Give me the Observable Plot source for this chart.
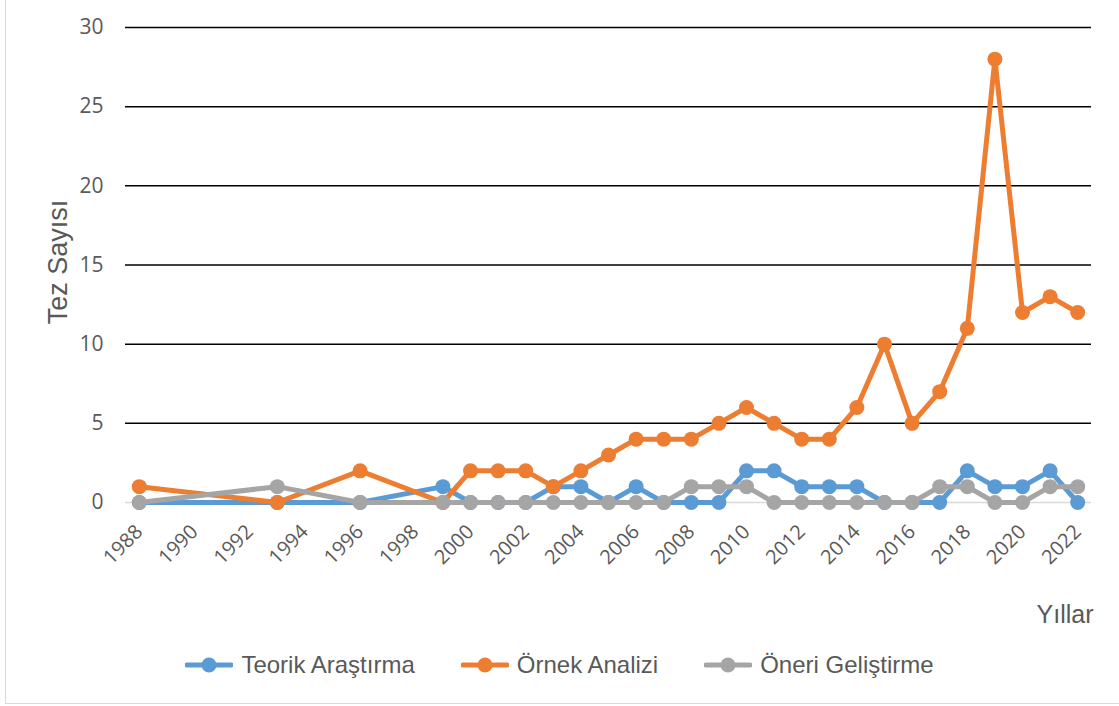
<!DOCTYPE html>
<html>
<head>
<meta charset="utf-8">
<script src="https://cdn.jsdelivr.net/npm/d3@7"></script>
<script src="https://cdn.jsdelivr.net/npm/@observablehq/plot@0.6"></script>
<style>
  html, body { margin: 0; padding: 0; background: #fff; }
  #frame { position: absolute; left: 5px; top: -2px; width: 1120px; height: 706px; box-sizing: border-box; border: 1.5px solid #d9d9d9; }
  #chart { position: absolute; left: 0; top: 0; }
  #legend { position: absolute; left: 0; top: 651px; width: 1119px; display: flex; justify-content: center; gap: 46px; font-family: "Liberation Sans", Arial, sans-serif; font-size: 24px; color: #595959; }
  .item { display: flex; align-items: center; gap: 8px; }
</style>
</head>
<body>
<div id="frame"></div>
<div id="chart"></div>
<div id="legend"></div>
<script>
const years = [1988, 1993, 1996, 1999, 2000, 2001, 2002, 2003, 2004, 2005, 2006, 2007, 2008, 2009, 2010, 2011, 2012, 2013, 2014, 2015, 2016, 2017, 2018, 2019, 2020, 2021, 2022];
const teorik = [0, 0, 0, 1, 0, 0, 0, 1, 1, 0, 1, 0, 0, 0, 2, 2, 1, 1, 1, 0, 0, 0, 2, 1, 1, 2, 0];
const ornek  = [1, 0, 2, 0, 2, 2, 2, 1, 2, 3, 4, 4, 4, 5, 6, 5, 4, 4, 6, 10, 5, 7, 11, 28, 12, 13, 12];
const oneri  = [0, 1, 0, 0, 0, 0, 0, 0, 0, 0, 0, 0, 1, 1, 1, 0, 0, 0, 0, 0, 0, 1, 1, 0, 0, 1, 1];
const seriesNames = ["Teorik Araştırma", "Örnek Analizi", "Öneri Geliştirme"];
const seriesColors = ["#5B9BD5", "#ED7D31", "#A5A5A5"];
const xTicks = d3.range(1988, 2023, 2);
const yTicks = [0, 5, 10, 15, 20, 25, 30];

const allSeries = [teorik, ornek, oneri];
const data = [];
allSeries.forEach((vals, si) => {
  vals.forEach((v, i) => data.push({year: years[i], value: v, series: seriesNames[si]}));
});

const marks = [
  Plot.ruleY(yTicks.filter(d => d > 0), {stroke: "#000", strokeWidth: 1.5}),
  Plot.ruleY([0], {stroke: "#d9d9d9", strokeWidth: 1.5}),
  Plot.axisY({ticks: yTicks, tickSize: 0, tickPadding: 22, fill: "#595959", fontSize: 21, label: null}),
  Plot.axisX({ticks: xTicks, tickSize: 0, tickPadding: 26, tickRotate: -45, tickFormat: d => String(d), fill: "#595959", fontSize: 20, label: null}),
  Plot.text(["Tez Sayısı"], {frameAnchor: "left", dx: -67, dy: -3, rotate: -90, fontSize: 27, fill: "#595959", textAnchor: "middle", fontFamily: "'Liberation Sans', Arial, sans-serif"}),
];
seriesNames.forEach((name, si) => {
  const d = data.filter(r => r.series === name);
  marks.push(Plot.line(d, {x: "year", y: "value", stroke: seriesColors[si], strokeWidth: 5, strokeLinejoin: "round"}));
  marks.push(Plot.dot(d, {x: "year", y: "value", fill: seriesColors[si], r: 7.5, stroke: "none"}));
});
marks.push(Plot.text(["Yıllar"], {frameAnchor: "bottom-right", dx: 2, dy: 120, fontSize: 25, fill: "#595959", textAnchor: "end", fontFamily: "'Liberation Sans', Arial, sans-serif"}));

const plot = Plot.plot({
  width: 1119,
  height: 640,
  marginLeft: 125,
  marginRight: 28,
  marginTop: 27,
  marginBottom: 138,
  x: {domain: [1987.5, 2022.5]},
  y: {domain: [0, 30]},
  style: {fontFamily: "'Open Sans', 'Liberation Sans', sans-serif", fontSize: "20px", background: "transparent", overflow: "visible"},
  marks
});
document.getElementById("chart").appendChild(plot);

const legend = document.getElementById("legend");
seriesNames.forEach((name, si) => {
  const item = document.createElement("div");
  item.className = "item";
  item.innerHTML = `<svg width="48" height="20"><line x1="2" y1="10" x2="46" y2="10" stroke="${seriesColors[si]}" stroke-width="5" stroke-linecap="round"/><circle cx="24" cy="10" r="7.5" fill="${seriesColors[si]}"/></svg><span>${name}</span>`;
  legend.appendChild(item);
});
</script>
</body>
</html>
